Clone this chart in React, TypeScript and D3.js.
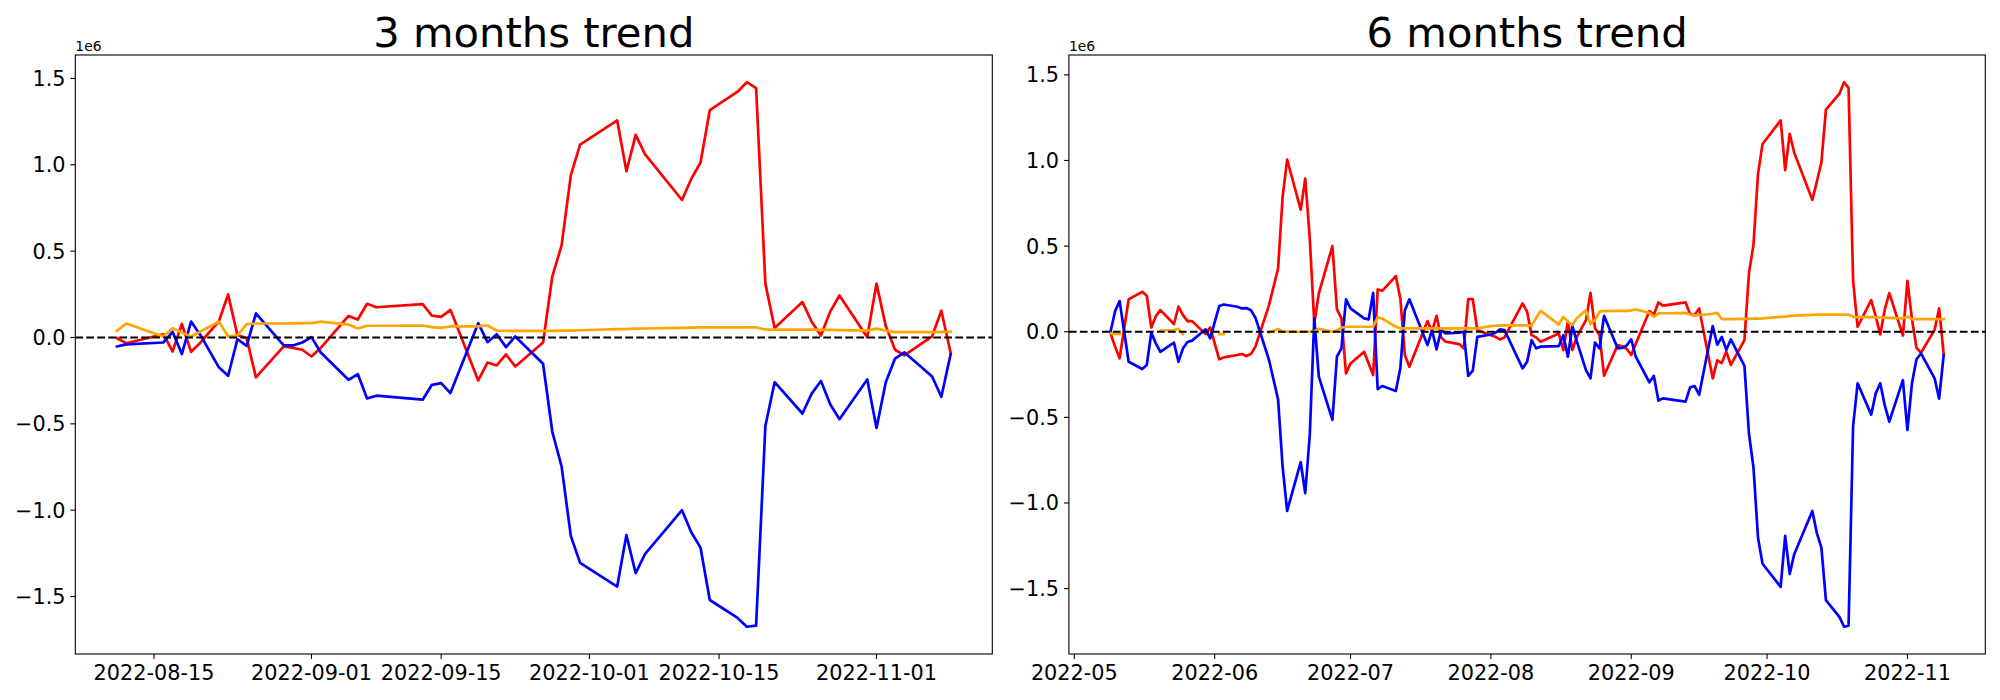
import * as d3 from 'd3';

// values in units of 1e6 (matplotlib offset text "1e6")
const dates3 = [
    '2022-08-11', '2022-08-12', '2022-08-16', '2022-08-17', '2022-08-18', '2022-08-19', '2022-08-20',
    '2022-08-22', '2022-08-23', '2022-08-24', '2022-08-25', '2022-08-26', '2022-08-29', '2022-08-30',
    '2022-08-31', '2022-09-01', '2022-09-02', '2022-09-05', '2022-09-06', '2022-09-07', '2022-09-08',
    '2022-09-13', '2022-09-14', '2022-09-15', '2022-09-16', '2022-09-19', '2022-09-20', '2022-09-21',
    '2022-09-22', '2022-09-23', '2022-09-26', '2022-09-27', '2022-09-28', '2022-09-29', '2022-09-30',
    '2022-10-04', '2022-10-05', '2022-10-06', '2022-10-07', '2022-10-11', '2022-10-12', '2022-10-13',
    '2022-10-14', '2022-10-17', '2022-10-18', '2022-10-19', '2022-10-20', '2022-10-21', '2022-10-24',
    '2022-10-25', '2022-10-26', '2022-10-27', '2022-10-28', '2022-10-31', '2022-11-01', '2022-11-02',
    '2022-11-03', '2022-11-04', '2022-11-07', '2022-11-08', '2022-11-09',
];
const red3 = [
    -0.004, -0.033, 0.019, -0.081, 0.079, -0.083, -0.03,
    0.094, 0.249, 0.015, -0.004, -0.231, -0.052, -0.06,
    -0.071, -0.11, -0.06, 0.125, 0.104, 0.195, 0.175,
    0.193, 0.127, 0.119, 0.16, -0.249, -0.145, -0.162,
    -0.098, -0.168, -0.029, 0.354, 0.533, 0.94, 1.117,
    1.257, 0.962, 1.173, 1.062, 0.796, 0.918, 1.013,
    1.316, 1.423, 1.478, 1.444, 0.312, 0.055, 0.206,
    0.091, 0.011, 0.15, 0.243, 0.002, 0.312, 0.066,
    -0.071, -0.104, 0.007, 0.155, -0.088,
];
const blue3 = [
    -0.052, -0.04, -0.029, 0.033, -0.096, 0.092, 0.015,
    -0.173, -0.222, -0.01, -0.048, 0.14, -0.046, -0.046,
    -0.029, 0.002, -0.087, -0.245, -0.212, -0.353, -0.337,
    -0.36, -0.274, -0.264, -0.322, 0.083, -0.027, 0.019,
    -0.056, 0.006, -0.152, -0.546, -0.746, -1.15, -1.305,
    -1.442, -1.144, -1.365, -1.254, -1.0, -1.128, -1.217,
    -1.52, -1.624, -1.675, -1.668, -0.513, -0.259, -0.44,
    -0.325, -0.252, -0.387, -0.473, -0.243, -0.524, -0.259,
    -0.122, -0.086, -0.226, -0.343, -0.097,
];
const orange3 = [
    0.039, 0.081, 0.006, 0.054, 0.029, 0.006, 0.035,
    0.092, 0.006, 0.012, 0.077, 0.081, 0.081, 0.082,
    0.083, 0.083, 0.092, 0.075, 0.052, 0.068, 0.068,
    0.069, 0.06, 0.056, 0.064, 0.064, 0.071, 0.039,
    0.039, 0.038, 0.038, 0.038, 0.04, 0.04, 0.042,
    0.049, 0.048, 0.051, 0.052, 0.056, 0.057, 0.058,
    0.058, 0.058, 0.058, 0.058, 0.046, 0.045, 0.045,
    0.045, 0.044, 0.044, 0.043, 0.04, 0.051, 0.04,
    0.031, 0.031, 0.031, 0.032, 0.033,
];

const dates6 = [
    '2022-05-09', '2022-05-10', '2022-05-11', '2022-05-13', '2022-05-16', '2022-05-17', '2022-05-18',
    '2022-05-19', '2022-05-20', '2022-05-23', '2022-05-24', '2022-05-25', '2022-05-26', '2022-05-27',
    '2022-05-30', '2022-05-31', '2022-06-02', '2022-06-03', '2022-06-06', '2022-06-07', '2022-06-08',
    '2022-06-09', '2022-06-10', '2022-06-13', '2022-06-15', '2022-06-16', '2022-06-17', '2022-06-20',
    '2022-06-21', '2022-06-22', '2022-06-23', '2022-06-24', '2022-06-27', '2022-06-28', '2022-06-29',
    '2022-06-30', '2022-07-01', '2022-07-04', '2022-07-05', '2022-07-06', '2022-07-07', '2022-07-08',
    '2022-07-11', '2022-07-12', '2022-07-13', '2022-07-14', '2022-07-18', '2022-07-19', '2022-07-20',
    '2022-07-21', '2022-07-22', '2022-07-25', '2022-07-26', '2022-07-27', '2022-07-28', '2022-07-29',
    '2022-08-01', '2022-08-02', '2022-08-03', '2022-08-04', '2022-08-08', '2022-08-09', '2022-08-10',
    '2022-08-11', '2022-08-12', '2022-08-16', '2022-08-17', '2022-08-18', '2022-08-19', '2022-08-20',
    '2022-08-22', '2022-08-23', '2022-08-24', '2022-08-25', '2022-08-26', '2022-08-29', '2022-08-30',
    '2022-08-31', '2022-09-01', '2022-09-02', '2022-09-05', '2022-09-06', '2022-09-07', '2022-09-08',
    '2022-09-13', '2022-09-14', '2022-09-15', '2022-09-16', '2022-09-19', '2022-09-20', '2022-09-21',
    '2022-09-22', '2022-09-23', '2022-09-26', '2022-09-27', '2022-09-28', '2022-09-29', '2022-09-30',
    '2022-10-04', '2022-10-05', '2022-10-06', '2022-10-07', '2022-10-11', '2022-10-12', '2022-10-13',
    '2022-10-14', '2022-10-17', '2022-10-18', '2022-10-19', '2022-10-20', '2022-10-21', '2022-10-24',
    '2022-10-25', '2022-10-26', '2022-10-27', '2022-10-28', '2022-10-31', '2022-11-01', '2022-11-02',
    '2022-11-03', '2022-11-04', '2022-11-07', '2022-11-08', '2022-11-09',
];
const red6 = [
    -0.01, -0.087, -0.155, 0.19, 0.233, 0.21, 0.025,
    0.091, 0.126, 0.045, 0.146, 0.097, 0.062, 0.062,
    -0.014, 0.025, -0.161, -0.15, -0.136, -0.13, -0.142,
    -0.13, -0.087, 0.155, 0.369, 0.787, 1.005, 0.713,
    0.894, 0.544, 0.049, 0.224, 0.5, 0.13, 0.078,
    -0.243, -0.185, -0.117, -0.185, -0.253, 0.247, 0.239,
    0.325, 0.194, -0.136, -0.204, 0.062, 0.0, 0.093,
    -0.033, -0.058, -0.072, -0.097, 0.19, 0.19, 0.01,
    -0.02, -0.03, -0.045, -0.033, 0.165, 0.117, -0.02,
    -0.033, -0.058, -0.01, -0.107, 0.058, -0.107, -0.03,
    0.068, 0.227, 0.02, -0.02, -0.257, -0.078, -0.085,
    -0.1, -0.136, -0.07, 0.12, 0.1, 0.171, 0.152,
    0.171, 0.103, 0.097, 0.136, -0.272, -0.167, -0.183,
    -0.116, -0.194, -0.049, 0.342, 0.509, 0.922, 1.096,
    1.234, 0.944, 1.156, 1.045, 0.77, 0.877, 0.989,
    1.297, 1.39, 1.457, 1.424, 0.297, 0.029, 0.185,
    0.09, -0.016, 0.13, 0.225, -0.022, 0.297, 0.074,
    -0.094, -0.123, 0.011, 0.136, -0.127,
];
const blue6 = [
    0.0, 0.12, 0.179, -0.175, -0.218, -0.194, -0.006,
    -0.068, -0.117, -0.064, -0.175, -0.097, -0.06, -0.052,
    0.014, -0.039, 0.15, 0.159, 0.146, 0.136, 0.138,
    0.126, 0.082, -0.165, -0.395, -0.787, -1.046, -0.762,
    -0.943, -0.603, 0.078, -0.262, -0.515, -0.146, -0.097,
    0.189, 0.136, 0.078, 0.072, 0.227, -0.336, -0.317,
    -0.346, -0.214, 0.126, 0.189, -0.078, 0.01, -0.103,
    0.01, -0.01, -0.006, 0.0, -0.258, -0.227, -0.03,
    -0.016, -0.006, 0.014, 0.01, -0.214, -0.175, -0.049,
    -0.097, -0.087, -0.084, -0.02, -0.146, 0.033, -0.058,
    -0.224, -0.272, -0.064, -0.097, 0.093, -0.097, -0.095,
    -0.08, -0.045, -0.146, -0.295, -0.258, -0.402, -0.389,
    -0.408, -0.325, -0.317, -0.368, 0.033, -0.076, -0.031,
    -0.105, -0.045, -0.199, -0.596, -0.792, -1.203, -1.355,
    -1.49, -1.192, -1.415, -1.299, -1.047, -1.176, -1.261,
    -1.567, -1.667, -1.723, -1.716, -0.551, -0.301, -0.484,
    -0.36, -0.301, -0.43, -0.525, -0.283, -0.574, -0.301,
    -0.161, -0.127, -0.272, -0.391, -0.138,
];
// null = missing value (gap in the orange line)
const orange6 = [
    -0.01, -0.012, -0.012, null, null, null, null,
    null, 0.006, 0.01, 0.017, -0.014, null, null,
    null, null, -0.014, -0.014, null, null, null,
    null, null, -0.005, 0.016, 0.0, 0.0, 0.0,
    0.0, 0.0, 0.002, 0.017, 0.0, 0.008, 0.023,
    0.029, 0.029, 0.029, 0.029, 0.029, 0.084, 0.076,
    0.029, 0.02, 0.02, 0.02, 0.02, 0.02, 0.02,
    0.02, 0.02, 0.02, 0.02, 0.02, 0.02, 0.02,
    0.033, 0.035, 0.036, 0.037, 0.037, 0.037, 0.037,
    0.08, 0.122, 0.043, 0.087, 0.06, 0.039, 0.08,
    0.126, 0.045, 0.068, 0.117, 0.12, 0.122, 0.122,
    0.122, 0.125, 0.13, 0.11, 0.087, 0.107, 0.108,
    0.11, 0.1, 0.097, 0.097, 0.105, 0.11, 0.074,
    0.074, 0.074, 0.075, 0.075, 0.076, 0.077, 0.078,
    0.087, 0.088, 0.092, 0.094, 0.098, 0.1, 0.1,
    0.1, 0.1, 0.1, 0.1, 0.087, 0.085, 0.085,
    0.084, 0.083, 0.082, 0.081, 0.078, 0.089, 0.074,
    0.074, 0.073, 0.073, 0.073, 0.073,
];

const yTicks = [-1.5, -1.0, -0.5, 0.0, 0.5, 1.0, 1.5];
const xTicks3 = ['2022-08-15', '2022-09-01', '2022-09-15', '2022-10-01', '2022-10-15', '2022-11-01'];
const xTicks6 = ['2022-05-01', '2022-06-01', '2022-07-01', '2022-08-01', '2022-09-01', '2022-10-01', '2022-11-01'];

const parse = d3.timeParse('%Y-%m-%d');
const FONT = '"DejaVu Sans", sans-serif';
const TOP = 55;
const BOTTOM = 654;
const TICK = 4.9;

type PanelProps = {
    title: string;
    left: number;
    right: number;
    dates: string[];
    red: (number | null)[];
    blue: (number | null)[];
    orange: (number | null)[];
    xTicks: string[];
    tickFormat: string;
};

function Panel({ title, left, right, dates, red, blue, orange, xTicks, tickFormat }: PanelProps) {
    const t = dates.map(d => parse(d) as Date);

    // matplotlib default 5% margins
    const [t0, t1] = d3.extent(t) as [Date, Date];
    const tPad = (t1.getTime() - t0.getTime()) * 0.05;
    const x = d3.scaleTime()
        .domain([new Date(t0.getTime() - tPad), new Date(t1.getTime() + tPad)])
        .range([left, right]);

    const all = [...red, ...blue, ...orange].filter(v => v != null) as number[];
    const [v0, v1] = d3.extent(all) as [number, number];
    const vPad = (v1 - v0) * 0.05;
    const y = d3.scaleLinear().domain([v0 - vPad, v1 + vPad]).range([BOTTOM, TOP]);

    const line = d3.line<[Date, number | null]>()
        .defined(d => d[1] != null)
        .x(d => x(d[0]))
        .y(d => y(d[1] as number));

    const series = [
        { values: red, color: 'red' },
        { values: blue, color: 'blue' },
        { values: orange, color: 'orange' },
    ];
    const fmt = d3.timeFormat(tickFormat);
    const minus = (v: number) => v.toFixed(1).replace('-', '\u2212');

    return (
        <g>
            <text x={(left + right) / 2} y={46.5} textAnchor="middle" fontSize={41.7} fontFamily={FONT}>
                {title}
            </text>
            <text x={left} y={50.5} fontSize={13.9} fontFamily={FONT}>1e6</text>

            <clipPath id={'clip' + left}>
                <rect x={left} y={TOP} width={right - left} height={BOTTOM - TOP} />
            </clipPath>
            <g clipPath={`url(#clip${left})`}>
                {series.map(s => (
                    <path
                        key={s.color}
                        d={line(t.map((d, i) => [d, s.values[i]]) as [Date, number | null][]) || ''}
                        fill="none"
                        stroke={s.color}
                        strokeWidth={2.7}
                        strokeLinejoin="round"
                        strokeLinecap="square"
                    />
                ))}
                <line x1={left} x2={right} y1={y(0)} y2={y(0)} stroke="black" strokeWidth={2.1} strokeDasharray="7.7,3.3" />
            </g>

            <rect x={left} y={TOP} width={right - left} height={BOTTOM - TOP} fill="none" stroke="black" strokeWidth={1.1} />

            {yTicks.map(v => (
                <g key={v}>
                    <line x1={left - TICK} x2={left} y1={y(v)} y2={y(v)} stroke="black" strokeWidth={1.1} />
                    <text x={left - TICK - 4.9} y={y(v)} dy="0.36em" textAnchor="end" fontSize={20.8} fontFamily={FONT}>
                        {minus(v)}
                    </text>
                </g>
            ))}
            {xTicks.map(s => {
                const d = parse(s) as Date;
                return (
                    <g key={s}>
                        <line x1={x(d)} x2={x(d)} y1={BOTTOM} y2={BOTTOM + TICK} stroke="black" strokeWidth={1.1} />
                        <text x={x(d)} y={680} textAnchor="middle" fontSize={20.8} fontFamily={FONT}>
                            {fmt(d)}
                        </text>
                    </g>
                );
            })}
        </g>
    );
}

export default function App() {
    return (
        <div style={{ position: 'absolute', left: 0, top: 0 }}>
            <svg width={2000} height={700} style={{ display: 'block', background: 'white' }}>
                <Panel
                    title="3 months trend"
                    left={75.3}
                    right={992.3}
                    dates={dates3}
                    red={red3}
                    blue={blue3}
                    orange={orange3}
                    xTicks={xTicks3}
                    tickFormat="%Y-%m-%d"
                />
                <Panel
                    title="6 months trend"
                    left={1068.9}
                    right={1985.3}
                    dates={dates6}
                    red={red6}
                    blue={blue6}
                    orange={orange6}
                    xTicks={xTicks6}
                    tickFormat="%Y-%m"
                />
            </svg>
        </div>
    );
}
